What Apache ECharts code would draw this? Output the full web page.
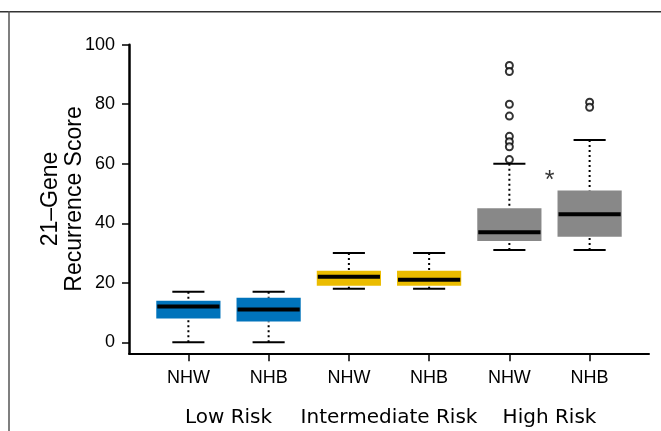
<!DOCTYPE html>
<html>
<head>
<meta charset="utf-8">
<script src="https://cdn.jsdelivr.net/npm/echarts@6/dist/echarts.min.js"></script>
<style>
  html, body { margin: 0; padding: 0; background: #fff; }
  #chart { width: 661px; height: 431px; }
</style>
</head>
<body>
<div id="chart"></div>
<script>
// categories
const subgroups = ['NHW', 'NHB', 'NHW', 'NHB', 'NHW', 'NHB'];
const riskGroups = ['Low Risk', 'Intermediate Risk', 'High Risk'];
const yTicks = [0, 20, 40, 60, 80, 100];

// box statistics, one per subgroup
const whiskerLow = [0, 0, 18, 18, 31, 31];
const q1 = [8, 7, 19, 19, 34, 35.5];
const medians = [12, 11, 22, 21, 37, 43];
const q3 = [14, 15, 24, 24, 45, 51];
const whiskerHigh = [17, 17, 30, 30, 60, 68];

// outliers (high risk only)
const outliersHighNHW = [93, 91, 80, 76, 69.2, 67.4, 65.7, 61.4];
const outliersHighNHB = [80.7, 79];

// significance marker between high risk boxes
const starPoint = [5.5, 54.6];

const boxColors = ['#0073bb', '#0073bb', '#ebbc00', '#ebbc00', '#888888', '#888888'];

const boxData = subgroups.map((_, i) => [i + 1, whiskerLow[i], q1[i], medians[i], q3[i], whiskerHigh[i]]);
const outlierData = outliersHighNHW.map(v => [5, v]).concat(outliersHighNHB.map(v => [6, v]));

function renderBox(params, api) {
  const x = api.value(0);
  const pLo = api.coord([x, api.value(1)]);
  const pQ1 = api.coord([x, api.value(2)]);
  const pMed = api.coord([x, api.value(3)]);
  const pQ3 = api.coord([x, api.value(4)]);
  const pHi = api.coord([x, api.value(5)]);
  const boxL = api.coord([x - 0.4, 0])[0];
  const boxR = api.coord([x + 0.4, 0])[0];
  const capL = api.coord([x - 0.2, 0])[0];
  const capR = api.coord([x + 0.2, 0])[0];
  const dotted = { stroke: '#000', lineWidth: 2, lineDash: [2, 3] };
  const solid = { stroke: '#000', lineWidth: 2 };
  return {
    type: 'group',
    children: [
      { type: 'line', shape: { x1: pMed[0], y1: pHi[1], x2: pMed[0], y2: pQ3[1] }, style: dotted },
      { type: 'line', shape: { x1: pMed[0], y1: pLo[1], x2: pMed[0], y2: pQ1[1] }, style: dotted },
      { type: 'line', shape: { x1: capL, y1: pHi[1], x2: capR, y2: pHi[1] }, style: solid },
      { type: 'line', shape: { x1: capL, y1: pLo[1], x2: capR, y2: pLo[1] }, style: solid },
      {
        type: 'rect',
        shape: { x: boxL, y: pQ3[1], width: boxR - boxL, height: pQ1[1] - pQ3[1] },
        style: { fill: boxColors[params.dataIndex] }
      },
      { type: 'line', shape: { x1: boxL + 1, y1: pMed[1], x2: boxR - 1, y2: pMed[1] }, style: { stroke: '#000', lineWidth: 4 } }
    ]
  };
}

const chart = echarts.init(document.getElementById('chart'));

chart.setOption({
  animation: false,
  backgroundColor: '#fff',
  grid: { left: 129, right: 12, top: 44.7, bottom: 77.7 },
  xAxis: [
    {
      type: 'value',
      min: 0.26,
      max: 6.74,
      axisLine: { show: true, onZero: false, lineStyle: { color: '#000', width: 2 } },
      axisTick: { show: true, customValues: [1, 2, 3, 4, 5, 6], length: 8, lineStyle: { color: '#000', width: 1.5 } },
      axisLabel: {
        customValues: [1, 2, 3, 4, 5, 6],
        formatter: v => subgroups[Math.round(v) - 1],
        margin: 16,
        color: '#000',
        fontFamily: 'Liberation Sans',
        fontSize: 18
      },
      splitLine: { show: false }
    },
    {
      type: 'value',
      position: 'bottom',
      min: 0.26,
      max: 6.74,
      axisLine: { show: false, onZero: false },
      axisTick: { show: false },
      axisLabel: {
        customValues: [1.5, 3.5, 5.5],
        formatter: v => riskGroups[Math.round((v - 1.5) / 2)],
        margin: 54,
        color: '#000',
        fontFamily: 'DejaVu Sans',
        fontSize: 20
      },
      splitLine: { show: false }
    }
  ],
  yAxis: {
    type: 'value',
    min: -3.7,
    max: 100,
    name: '21\u2013Gene\nRecurrence Score',
    nameLocation: 'middle',
    nameGap: 42,
    nameMoveOverlap: false,
    nameTextStyle: { color: '#000', fontFamily: 'Liberation Sans', fontSize: 23, lineHeight: 24, align: 'center' },
    axisLine: { show: true, lineStyle: { color: '#000', width: 2.5 } },
    axisTick: { show: true, customValues: yTicks, length: 7, lineStyle: { color: '#000', width: 1.5 } },
    axisLabel: {
      customValues: yTicks,
      margin: 14,
      color: '#000',
      fontFamily: 'Liberation Sans',
      fontSize: 18
    },
    splitLine: { show: false }
  },
  series: [
    {
      type: 'custom',
      xAxisIndex: 0,
      renderItem: renderBox,
      encode: { x: 0, y: [1, 2, 3, 4, 5] },
      data: boxData,
      z: 2
    },
    {
      type: 'scatter',
      xAxisIndex: 0,
      symbol: 'emptyCircle',
      symbolSize: 7,
      itemStyle: { color: '#000', borderColor: '#000', borderWidth: 1.3 },
      data: outlierData,
      z: 3
    },
    {
      type: 'scatter',
      xAxisIndex: 0,
      symbolSize: 0,
      data: [starPoint],
      label: {
        show: true,
        position: 'inside',
        formatter: '*',
        color: '#000',
        fontFamily: 'Liberation Sans',
        fontSize: 25,
        offset: [0, 1]
      },
      z: 3
    }
  ],
  graphic: [
    { type: 'line', shape: { x1: 0, y1: 11.7, x2: 661, y2: 11.7 }, style: { stroke: '#333', lineWidth: 1.5 } },
    { type: 'line', shape: { x1: 9, y1: 11, x2: 9, y2: 431 }, style: { stroke: '#555', lineWidth: 1.5 } }
  ]
});
</script>
</body>
</html>
